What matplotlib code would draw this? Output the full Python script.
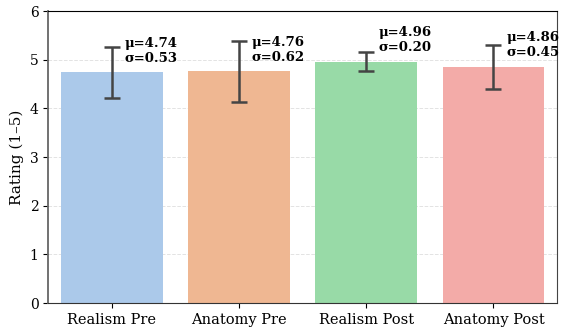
import matplotlib
matplotlib.use("Agg")
import matplotlib.pyplot as plt
import numpy as np
import seaborn as sns

# data
conditions = ["Realism Pre", "Anatomy Pre", "Realism Post", "Anatomy Post"]
means = [4.74, 4.76, 4.96, 4.86]
stds = [0.53, 0.62, 0.20, 0.45]

plt.rcParams['font.family'] = ['DejaVu Serif']

colors = [sns.desaturate(c, 0.75) for c in sns.color_palette("pastel", 4)]

fig, ax = plt.subplots(figsize=(5.61, 3.28), dpi=100)
x = np.arange(len(conditions))
ax.bar(x, means, width=0.8, color=colors, zorder=2)
ax.errorbar(x, means, yerr=stds, fmt='none', ecolor='#444444',
            elinewidth=1.8, capsize=6, capthick=1.8, zorder=3)

for xi, m, s in zip(x, means, stds):
    ax.text(xi + 0.1, m + 0.45, f"μ={m:.2f}\nσ={s:.2f}", ha='left', va='center',
            fontsize=9.5, fontweight='bold', linespacing=1.2, zorder=4)

ax.set_xlim(-0.5, 3.5)
ax.set_ylim(0, 6)
ax.set_xticks(x)
ax.set_xticklabels(conditions, fontsize=10.5)
ax.tick_params(axis='y', labelsize=10)
ax.set_ylabel("Rating (1–5)", fontsize=11)
ax.yaxis.grid(True, linestyle='--', color='#e3e3e3', linewidth=0.7, zorder=0)
ax.set_axisbelow(True)

ax.spines['left'].set_color('#666666')
ax.spines['left'].set_linewidth(1.3)
ax.spines['bottom'].set_color('#333333')
ax.spines['right'].set_color('#444444')
ax.spines['top'].set_color('black')

fig.subplots_adjust(left=0.086, right=0.993, bottom=0.076, top=0.966)
fig.savefig("out.png", dpi=100)
